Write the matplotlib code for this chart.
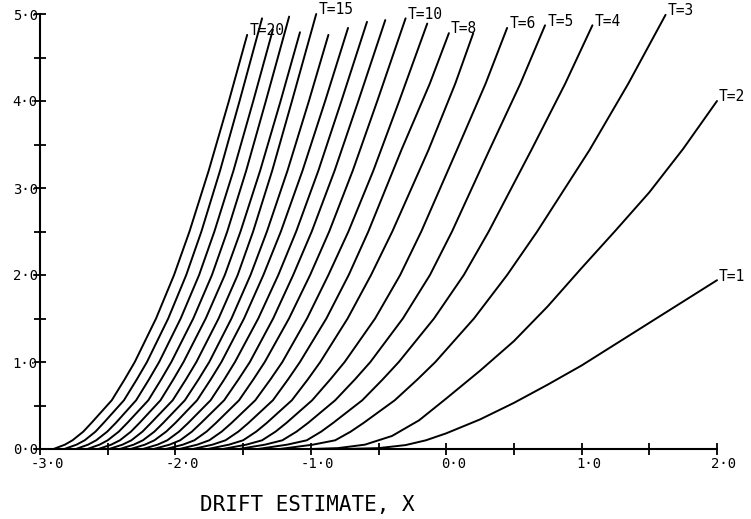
import matplotlib
matplotlib.use('Agg')
import matplotlib.pyplot as plt
import matplotlib.transforms as mtransforms
from matplotlib.ticker import MultipleLocator

# curves, one list per T (x = drift estimate)
T_VALUES = list(range(1, 21))

curve_x = [
    [-0.75, -0.50, -0.30, -0.15, 0.00, 0.25, 0.50, 0.75, 1.00, 1.50, 2.00],                # T=1
    [-1.00, -0.80, -0.60, -0.40, -0.20, 0.00, 0.25, 0.50, 0.75, 1.00, 1.25, 1.50, 1.75, 2.00],  # T=2
    [-1.23, -0.984, -0.82, -0.705, -0.61, -0.38, -0.212, -0.08, 0.205, 0.45, 0.672, 1.06, 1.345, 1.62],    # T=3
    [-1.39, -1.174, -1.03, -0.923, -0.835, -0.62, -0.469, -0.35, -0.09, 0.13, 0.314, 0.63, 0.879, 1.08],   # T=4
    [-1.53, -1.338, -1.21, -1.105, -1.02, -0.82, -0.674, -0.56, -0.32, -0.12, 0.043, 0.32, 0.548, 0.73],   # T=5
    [-1.65, -1.476, -1.36, -1.26, -1.18, -0.99, -0.856, -0.75, -0.525, -0.34, -0.184, 0.08, 0.291, 0.45],  # T=6
    [-1.76, -1.604, -1.50, -1.403, -1.325, -1.14, -1.022, -0.93, -0.728, -0.555, -0.398, -0.13, 0.067, 0.20],  # T=7
    [-1.87, -1.726, -1.63, -1.535, -1.46, -1.28, -1.168, -1.08, -0.885, -0.72, -0.575, -0.33, -0.121, 0.02],  # T=8
    [-1.97, -1.838, -1.75, -1.658, -1.585, -1.41, -1.298, -1.21, -1.028, -0.87, -0.722, -0.538, -0.347, -0.14],   # T=9
    [-2.07, -1.944, -1.86, -1.77, -1.70, -1.53, -1.424, -1.34, -1.161, -1.005, -0.864, -0.69, -0.509, -0.30],     # T=10
    [-2.16, -2.043, -1.965, -1.878, -1.81, -1.64, -1.534, -1.45, -1.278, -1.13, -0.993, -0.824, -0.649, -0.45],   # T=11
    [-2.24, -2.132, -2.06, -1.973, -1.905, -1.74, -1.639, -1.56, -1.388, -1.24, -1.108, -0.944, -0.774, -0.585],  # T=12
    [-2.33, -2.225, -2.155, -2.068, -2.00, -1.84, -1.739, -1.66, -1.493, -1.35, -1.221, -1.061, -0.894, -0.725],  # T=13
    [-2.41, -2.308, -2.24, -2.155, -2.09, -1.93, -1.829, -1.75, -1.586, -1.445, -1.324, -1.172, -1.014, -0.87],   # T=14
    [-2.49, -2.391, -2.325, -2.243, -2.18, -2.02, -1.922, -1.845, -1.681, -1.54, -1.426, -1.285, -1.139, -0.96],  # T=15
    [-2.57, -2.474, -2.41, -2.328, -2.265, -2.11, -2.015, -1.94, -1.776, -1.635, -1.519, -1.374, -1.223, -1.08],  # T=16
    [-2.65, -2.56, -2.50, -2.418, -2.355, -2.20, -2.105, -2.03, -1.868, -1.73, -1.617, -1.477, -1.332, -1.16],    # T=17
    [-2.735, -2.645, -2.585, -2.503, -2.44, -2.29, -2.195, -2.12, -1.961, -1.825, -1.712, -1.571, -1.425, -1.28], # T=18
    [-2.82, -2.73, -2.67, -2.59, -2.53, -2.38, -2.285, -2.21, -2.053, -1.92, -1.808, -1.67, -1.526, -1.36],       # T=19
    [-2.90, -2.816, -2.76, -2.68, -2.62, -2.47, -2.375, -2.30, -2.143, -2.01, -1.896, -1.754, -1.605, -1.47],     # T=20
]

curve_y = [
    [0.00, 0.01, 0.045, 0.10, 0.18, 0.34, 0.53, 0.74, 0.96, 1.45, 1.94],
    [0.00, 0.01, 0.05, 0.15, 0.33, 0.58, 0.90, 1.24, 1.64, 2.08, 2.51, 2.95, 3.45, 4.00],
    [0.0, 0.05, 0.1, 0.2, 0.3, 0.56, 0.8, 1.0, 1.5, 2.0, 2.5, 3.44, 4.2, 4.99],
    [0.0, 0.05, 0.1, 0.2, 0.3, 0.56, 0.8, 1.0, 1.5, 2.0, 2.5, 3.44, 4.2, 4.87],
    [0.0, 0.05, 0.1, 0.2, 0.3, 0.56, 0.8, 1.0, 1.5, 2.0, 2.5, 3.44, 4.2, 4.87],
    [0.0, 0.05, 0.1, 0.2, 0.3, 0.56, 0.8, 1.0, 1.5, 2.0, 2.5, 3.44, 4.2, 4.84],
    [0.0, 0.05, 0.1, 0.2, 0.3, 0.56, 0.8, 1.0, 1.5, 2.0, 2.5, 3.44, 4.2, 4.78],
    [0.0, 0.05, 0.1, 0.2, 0.3, 0.56, 0.8, 1.0, 1.5, 2.0, 2.5, 3.44, 4.2, 4.78],
    [0.0, 0.05, 0.1, 0.2, 0.3, 0.56, 0.8, 1.0, 1.5, 2.0, 2.5, 3.2, 4.0, 4.89],
    [0.0, 0.05, 0.1, 0.2, 0.3, 0.56, 0.8, 1.0, 1.5, 2.0, 2.5, 3.2, 4.0, 4.95],
    [0.0, 0.05, 0.1, 0.2, 0.3, 0.56, 0.8, 1.0, 1.5, 2.0, 2.5, 3.2, 4.0, 4.93],
    [0.0, 0.05, 0.1, 0.2, 0.3, 0.56, 0.8, 1.0, 1.5, 2.0, 2.5, 3.2, 4.0, 4.91],
    [0.0, 0.05, 0.1, 0.2, 0.3, 0.56, 0.8, 1.0, 1.5, 2.0, 2.5, 3.2, 4.0, 4.84],
    [0.0, 0.05, 0.1, 0.2, 0.3, 0.56, 0.8, 1.0, 1.5, 2.0, 2.5, 3.2, 4.0, 4.76],
    [0.0, 0.05, 0.1, 0.2, 0.3, 0.56, 0.8, 1.0, 1.5, 2.0, 2.5, 3.2, 4.0, 5.00],
    [0.0, 0.05, 0.1, 0.2, 0.3, 0.56, 0.8, 1.0, 1.5, 2.0, 2.5, 3.2, 4.0, 4.79],
    [0.0, 0.05, 0.1, 0.2, 0.3, 0.56, 0.8, 1.0, 1.5, 2.0, 2.5, 3.2, 4.0, 4.97],
    [0.0, 0.05, 0.1, 0.2, 0.3, 0.56, 0.8, 1.0, 1.5, 2.0, 2.5, 3.2, 4.0, 4.82],
    [0.0, 0.05, 0.1, 0.2, 0.3, 0.56, 0.8, 1.0, 1.5, 2.0, 2.5, 3.2, 4.0, 4.95],
    [0.0, 0.05, 0.1, 0.2, 0.3, 0.56, 0.8, 1.0, 1.5, 2.0, 2.5, 3.2, 4.0, 4.76],
]

LABELED_T = [1, 2, 3, 4, 5, 6, 8, 10, 15, 20]

x_ticks = [-3, -2, -1, 0, 1, 2]
x_ticklabels = ['-3·0', '-2·0', '-1·0', '0·0', '1·0', '2·0']
y_ticks = [0, 1, 2, 3, 4, 5]
y_ticklabels = ['0·0', '1·0', '2·0', '3·0', '4·0', '5·0']

MONO = 'DejaVu Sans Mono'

fig = plt.figure(figsize=(7.51, 5.19), dpi=100)
ax = fig.add_axes([40 / 751, 1 - 449 / 519, 677 / 751, 435 / 519])

for T, xs, ys in zip(T_VALUES, curve_x, curve_y):
    ax.plot(xs, ys, color='black', lw=1.4, clip_on=False,
            solid_joinstyle='round', solid_capstyle='round')
    if T in LABELED_T:
        ax.annotate('T=%d' % T, xy=(xs[-1], ys[-1]), xytext=(1.5, 3),
                    textcoords='offset points', ha='left', va='center',
                    fontsize=10.5, family=MONO)

ax.set_xlim(-3, 2)
ax.set_ylim(0, 5)

for side in ['top', 'right']:
    ax.spines[side].set_visible(False)
for side in ['left', 'bottom']:
    ax.spines[side].set_linewidth(1.5)

ax.set_xticks(x_ticks)
ax.set_xticklabels(x_ticklabels, family=MONO, fontsize=10)
ax.set_yticks(y_ticks)
ax.set_yticklabels(y_ticklabels, family=MONO, fontsize=10)
ax.xaxis.set_minor_locator(MultipleLocator(0.5))
ax.yaxis.set_minor_locator(MultipleLocator(0.5))
ax.tick_params(which='both', direction='inout', length=8, width=1.3)
ax.tick_params(axis='y', pad=-2.5)
ax.tick_params(axis='x', pad=1.5)

# plotter put the x labels a little right of the tick
shift = mtransforms.ScaledTranslation(7 / 100, 0, fig.dpi_scale_trans)
for lab in ax.get_xticklabels():
    lab.set_transform(lab.get_transform() + shift)

fig.text(200 / 751, 1 - 505 / 519, 'DRIFT ESTIMATE, X', ha='left', va='center',
         fontsize=15, family=MONO)

fig.savefig('out.png', dpi=100)
